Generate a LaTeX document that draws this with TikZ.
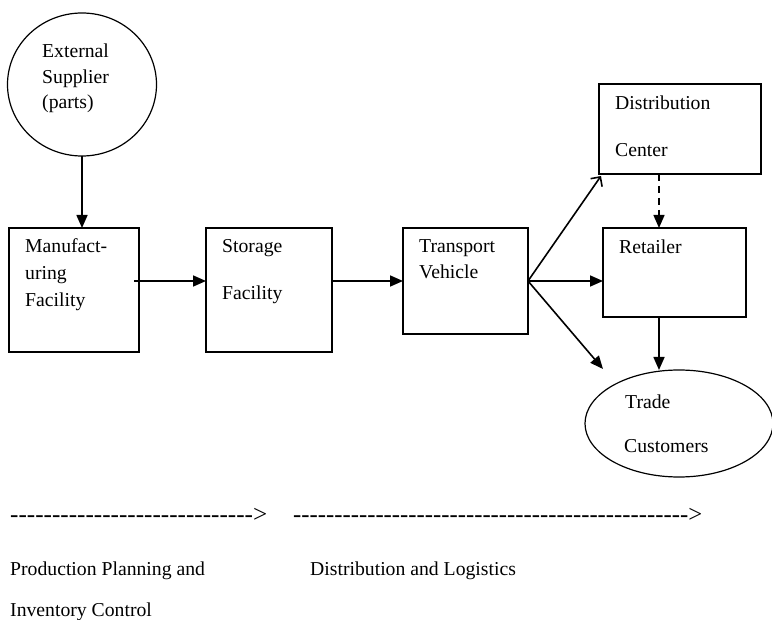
\documentclass[tikz,border=0pt]{standalone}
\usepackage{fontspec}
\usepackage{graphicx}
\setmainfont{Liberation Serif}
\usetikzlibrary{arrows.meta,shapes.geometric,calc}
\begin{document}
\begin{tikzpicture}[x=1pt,y=-1pt,
  box/.style={draw,line width=1.2pt,rectangle,inner sep=0pt,outer sep=0pt},
  oval/.style={draw,line width=1.2pt,ellipse,inner sep=0pt,outer sep=0pt},
  lbl/.style={anchor=base west,inner sep=0pt,font=\fontsize{19.7}{24}\selectfont},
  dashtxt/.style={anchor=base west,inner sep=0pt,font=\fontsize{24.8}{30}\selectfont},
  arr/.style={line width=1.6pt,-{Triangle[length=13pt,width=11pt]}},
  openarr/.style={line width=1.6pt,-{Straight Barb[length=7pt,width=14pt]}},
  dasharr/.style={line width=1.4pt,dash pattern=on 7pt off 5pt,-{Triangle[length=13pt,width=11pt]}}]
\useasboundingbox (0,0) rectangle (772,620);
\fill[white] (0,0) rectangle (772,620);

% shapes
\node[oval,minimum width=149pt,minimum height=143pt] (sup) at (82,84.5) {};
\node[box,minimum width=130pt,minimum height=124pt] (man) at (74,290) {};
\node[box,minimum width=126pt,minimum height=124pt] (sto) at (269,290) {};
\node[box,minimum width=125pt,minimum height=106pt] (tra) at (465.5,281) {};
\node[box,minimum width=162pt,minimum height=90pt] (dis) at (680,129) {};
\node[box,minimum width=143pt,minimum height=89pt] (ret) at (674.5,272.5) {};
\node[oval,minimum width=188pt,minimum height=107pt] (cus) at (679,423.5) {};

% texts
\node[lbl] (t1) at (42,58) {External};
\node[lbl] (t2) at (42,84) {Supplier};
\node[lbl] (t3) at (42,109) {(parts)};
\node[lbl] (t4) at (25,253) {Manufact-};
\node[lbl] (t5) at (25,280) {uring};
\node[lbl] (t6) at (25,307) {Facility};
\node[lbl] (t7) at (222,253) {Storage};
\node[lbl] (t8) at (222,300) {Facility};
\node[lbl] (t9) at (419,253) {Transport};
\node[lbl] (t10) at (419,279) {Vehicle};
\node[lbl] (t11) at (615,110) {Distribution};
\node[lbl] (t12) at (615,157) {Center};
\node[lbl] (t13) at (619,254) {Retailer};
\node[lbl] (t14) at (625,409) {Trade};
\node[lbl] (t15) at (624,453) {Customers};

\node[dashtxt] (d1) at (10,523) {\resizebox{257pt}{\height}{\foreach \i in {1,...,29}{\mbox{-}}\mbox{>}}};
\node[dashtxt] (d2) at (293,523) {\resizebox{409pt}{\height}{\foreach \i in {1,...,48}{\mbox{-}}\mbox{>}}};
\node[lbl] (b1) at (10,575) {Production Planning and};
\node[lbl] (b2) at (310,575) {Distribution and Logistics};
\node[lbl] (b3) at (10,616) {Inventory Control};

% connectors
\coordinate (row) at (0,281);
\coordinate (ms) at ([xshift=-5pt]man.east);
\coordinate (te) at (tra.east |- row);
\coordinate (cusend) at (603,369);
\coordinate (dcol) at (659,0);

\draw[arr] (sup.south) -- (sup.south |- man.north);
\draw[arr] (ms |- row) -- (sto.west |- row);
\draw[arr] (sto.east |- row) -- (tra.west |- row);
\draw[arr] (te) -- (ret.west |- row);
\draw[openarr] (te) -- ([shift={(2,2)}]dis.south west);
\draw[arr] (te) -- (cusend);
\draw[dasharr] (dcol |- dis.south) -- (dcol |- ret.north);
\draw[arr] (dcol |- ret.south) -- (dcol |- cus.north);
\end{tikzpicture}
\end{document}
